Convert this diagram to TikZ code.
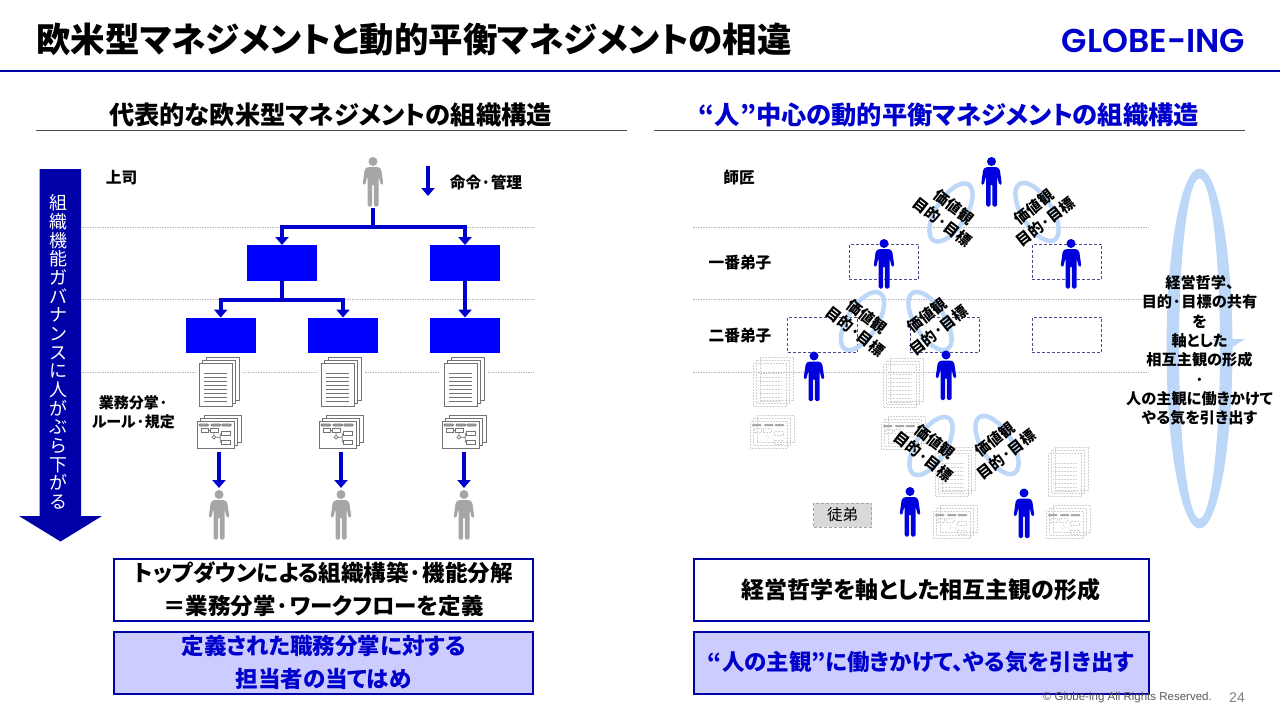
\documentclass[tikz,border=0pt]{standalone}
\usepackage{fontspec}
\setmainfont{Noto Sans CJK JP}[RawFeature=+palt]
\newfontfamily\logofont{Poppins}[UprightFont=* SemiBold]
\newfontfamily\footfont{Liberation Sans}
\usetikzlibrary{arrows.meta, positioning, shapes.geometric, calc}
\definecolor{pureblue}{HTML}{0000FF}
\definecolor{flowblue}{HTML}{0000CC}
\definecolor{figureblue}{HTML}{0000DC}
\definecolor{navyblue}{HTML}{0000A8}
\definecolor{bandblue}{HTML}{BDD7F8}
\definecolor{paleviolet}{HTML}{CCCCFF}
\definecolor{dashviolet}{HTML}{4A4A8C}
\definecolor{personfill}{HTML}{A6A6A6}
\newcommand{\fs}[2]{\fontsize{#1}{#2}\selectfont}
\tikzset{
    pics/person/.style={code={
        \fill[#1] (0,-20.5) circle (4.5);
        \fill[#1, rounded corners=1.5pt] (-5.5,-15) -- (5.5,-15) -- (8.2,-13) -- (10.4,2.5) -- (7.8,3) -- (5.5,-6)
            -- (5.5,24.5) -- (0.8,24.5) -- (0.8,2) -- (-0.8,2) -- (-0.8,24.5) -- (-5.5,24.5) -- (-5.5,-6)
            -- (-7.8,3) -- (-10.4,2.5) -- (-8.2,-13) -- cycle;
        \coordinate (-head) at (0,-26);
        \coordinate (-feet) at (0,26);
    }},
    pics/docstack/.style={code={
        \foreach \dx/\dy in {7/5.3, 3.5/2.6, 0/0}
            \draw[#1] ({-20+\dx},{-19-\dy}) rectangle ({13+\dx},{24-\dy});
        \foreach \ly in {-9,-5,...,19}
            \draw[#1, fill=none, line width=0.6pt] (-15,\ly) -- (8,\ly);
    }},
    pics/flowstack/.style={code={
        \foreach \dx/\dy in {7/5.3, 3.5/2.6, 0/0}
            \draw[#1] ({-22+\dx},{-11-\dy}) rectangle ({15+\dx},{16-\dy});
        \foreach \px in {-20,-8,2.7}
            \draw[#1, fill=black!35, rounded corners=0.8pt] (\px,-8) rectangle ++(9.5,2);
        \draw[#1, fill=none] (-17.3,-3.3) rectangle (-10.7,0) (-9,-3.3) rectangle (-0.7,0)
            (2.7,-0.3) rectangle (11,3.7) (2.7,8) rectangle (11,12);
        \draw[#1, fill=none] (-10.7,-1.6) -- (-9,-1.6) (-5,0) -- (-5,3.5) (-3,5.3) -- (0.5,5.3) (1.2,1.7) -- (1.2,10) (1.2,1.7) -- (2.7,1.7) (1.2,10) -- (2.7,10)
            (-7,5.3) -- (-5,3.5) -- (-3,5.3) -- (-5,7.1) -- cycle;
        \coordinate (-base) at (0,20);
    }}
}

\begin{document}
\begin{tikzpicture}[
        x=1pt, y=-1pt,
        plain/.style={draw=black!55, line width=0.7pt, fill=white},
        faint/.style={draw=black!18, line width=0.5pt, densely dotted},
        guide/.style={draw=black!28, line width=0.6pt, dash pattern=on 1.5pt off 1pt},
        rulesep/.style={draw=black!70, line width=0.8pt},
        unit/.style={rectangle, fill=pureblue, minimum width=70pt, minimum height=35.5pt, inner sep=0pt},
        slot/.style={rectangle, draw=dashviolet, line width=0.7pt, densely dashed, minimum width=69.5pt, minimum height=35.5pt, inner sep=0pt},
        branch/.style={draw=flowblue, line width=4pt},
        flow/.style={branch, -{Triangle[width=13pt,length=8pt]}},
        ring/.style={draw=bandblue, line width=4.5pt},
        rolelabel/.style={font=\fs{15.7}{19}\bfseries, align=center, inner sep=0pt},
        valuelabel/.style={font=\fs{15}{19}\bfseries, align=center, inner sep=0pt},
        summary/.style={rectangle, draw=navyblue, line width=2pt, align=center, inner sep=0pt, font=\fs{22.5}{33.5}\bfseries},
        headline/.style={font=\fs{25.3}{28}\bfseries, inner sep=0pt}
    ]

    \useasboundingbox (0,0) rectangle (1280,720);

    % Title and logo
    \node[anchor=west, inner sep=0pt, font=\fs{34.5}{36}\bfseries] (title) at (36,40) {欧米型マネジメントと動的平衡マネジメントの相違};
    \node[inner sep=0pt, text=flowblue, font=\logofont\fs{33}{35}] (logo) at (1153.5,41) {GLOBE-ING};
    \draw[navyblue, line width=2.5pt] (0,71) -- (1280,71);

    % Section headings
    \node[headline] (headLeft) at (330.5,115) {代表的な欧米型マネジメントの組織構造};
    \node[headline, text=flowblue] (headRight) at (949,115) {“人”中心の動的平衡マネジメントの組織構造};
    \draw[rulesep] (36,130) -- (627,130);
    \draw[rulesep] (654,130) -- (1245,130);

    % Level guides, left
    \draw[guide] (82,227) -- (534,227);
    \draw[guide] (82,299.5) -- (534,299.5);
    \foreach \a/\b in {82/195, 243/316, 365/440, 488/534}
        \draw[guide] (\a,372) -- (\b,372);

    % Level guides, right
    \foreach \gy in {227,299.5,372}
        \draw[guide] (693,\gy) -- (1149,\gy);

    % Governance arrow
    \fill[navyblue] (39.5,169) -- (81,169) -- (81,516) -- (102,516) -- (60.5,541.5) -- (19,516) -- (39.5,516) -- cycle;
    \node[text=white, align=center, inner sep=0pt, font=\fs{18}{18.65}] (governance) at (58.5,352) {組\\織\\機\\能\\ガ\\バ\\ナ\\ン\\ス\\に\\人\\が\\ぶ\\ら\\下\\が\\る};

    % Left tree
    \pic (boss) at (373,182) {person=personfill};
    \node[unit] (unitA) at (282,263) {};
    \node[unit] (unitB) at (465,263) {};
    \node[unit] (subA) at (220.7,335.5) {};
    \node[unit] (subB) at (343,335.5) {};
    \node[unit] (subC) at (465,335.5) {};
    \coordinate (splitTop) at (373,227);
    \coordinate (splitMid) at (282,299.5);
    \draw[branch] (boss-feet) -- (splitTop);
    \draw[branch] (unitA.south) -- (splitMid);
    \foreach \n in {unitA, unitB}
        \draw[flow] (splitTop) -| (\n.north);
    \foreach \n in {subA, subB}
        \draw[flow] (splitMid) -| (\n.north);
    \draw[flow] (unitB.south) -- (subC.north);

    % Command legend
    \coordinate (orderStart) at (428,166);
    \coordinate (orderEnd) at (428,196);
    \draw[flow, line width=3.5pt] (orderStart) -- (orderEnd);
    \node[rolelabel] (orderLabel) at (486,182) {命令·管理};
    \node[rolelabel] (bossLabel) at (121.5,178) {上司};
    \node[rolelabel, font=\fs{15}{19}\bfseries] (dutyLabel) at (133.5,412) {業務分掌·\\ルール·規定};

    % Documents and staff, left
    \foreach \n/\px in {A/219, B/341, C/464} {
        \pic (doc\n) at (\px,382) {docstack=plain};
        \pic (chart\n) at (\px,432) {flowstack=plain};
        \pic (staff\n) at (\px,515) {person=personfill};
        \draw[flow, line width=3.5pt, shorten >=1pt] (chart\n-base) -- (staff\n-head);
    }

    % Ghost documents, right
    \foreach \dx/\dy in {773/382, 903/383, 955/472, 1068/472}
        \pic at (\dx,\dy) {docstack=faint};
    \foreach \dx/\dy in {772/432, 903/433, 955/522, 1068/522}
        \pic at (\dx,\dy) {flowstack=faint};

    % Dashed slots
    \node[slot] (slotA) at (884,262) {};
    \node[slot] (slotB) at (1067,262) {};
    \node[slot] (slotC) at (822.5,335) {};
    \node[slot] (slotD) at (945,335) {};
    \node[slot] (slotE) at (1067,335) {};

    % Rings
    \foreach \cx/\cy/\ang in {951/212.5/58, 1037/212/-58, 862.5/321/58, 930/321/-58, 931/446/58, 997/445/-58}
        \draw[ring] (\cx,\cy) ellipse [x radius=33, y radius=15, rotate=\ang];

    % People, right
    \pic (master) at (991.5,182) {person=figureblue};
    \pic (firstA) at (884,264) {person=figureblue};
    \pic (firstB) at (1071,264) {person=figureblue};
    \pic (secondA) at (814,376.5) {person=figureblue};
    \pic (secondB) at (946,375.5) {person=figureblue};
    \pic (thirdA) at (910,512) {person=figureblue};
    \pic (thirdB) at (1024,513.5) {person=figureblue};

    % Values text
    \foreach \n/\tx/\ty/\ang in {a/948/214.5/-38, b/1039.5/214.5/38, c/861/324/-38, d/933/323/38, e/929/449/-38, f/1000.5/447/38}
        \node[valuelabel, rotate=\ang] (value\n) at (\tx,\ty) {価値観\\目的·目標};

    % Ranks, right
    \node[rolelabel] (rankTop) at (739,178) {師匠};
    \node[rolelabel] (rankOne) at (740,263) {一番弟子};
    \node[rolelabel] (rankTwo) at (740,336) {二番弟子};
    \node[rectangle, fill=black!15, draw=black!35, densely dashed, minimum width=58pt, minimum height=24pt, inner sep=0pt, font=\fs{15.5}{18}] (apprentice) at (842.5,515) {徒弟};

    % Cycle band
    \fill[bandblue, even odd rule] (1199.5,348.5) ellipse [x radius=33, y radius=180]
        (1199.5,348.5) ellipse [x radius=20.5, y radius=170];
    \fill[bandblue] (1212,339) -- (1245,339) -- (1225,352) -- cycle;
    \node[font=\fs{15.2}{19.35}\bfseries, align=center, inner sep=0pt] (philosophy) at (1199.5,350.5) {経営哲学、\\目的·目標の共有\\を\\軸とした\\相互主観の形成\\·\\人の主観に働きかけて\\やる気を引き出す};

    % Summary boxes
    \node[summary, minimum width=419pt, minimum height=62pt] (topLeft) at (323.5,589.5) {トップダウンによる組織構築·機能分解\\＝業務分掌·ワークフローを定義};
    \node[summary, minimum width=419pt, minimum height=62pt, fill=paleviolet, text=flowblue, below=9pt of topLeft] (lowLeft) {定義された職務分掌に対する\\担当者の当てはめ};
    \node[summary, minimum width=455pt, minimum height=62pt, font=\fs{23}{33.5}\bfseries] (topRight) at (921,589.5) {経営哲学を軸とした相互主観の形成};
    \node[summary, minimum width=455pt, minimum height=62pt, fill=paleviolet, text=flowblue, below=9pt of topRight] (lowRight) {“人の主観”に働きかけて、やる気を引き出す};

    % Footer
    \node[anchor=east, inner sep=0pt, text=black!65, font=\footfont\fs{11.5}{13}] (copyright) at (1212,698) {© Globe-ing All Rights Reserved.};
    \node[anchor=east, inner sep=0pt, text=black!50, font=\footfont\fs{14}{16}] (pageNum) at (1245,698) {24};

\end{tikzpicture}
\end{document}
